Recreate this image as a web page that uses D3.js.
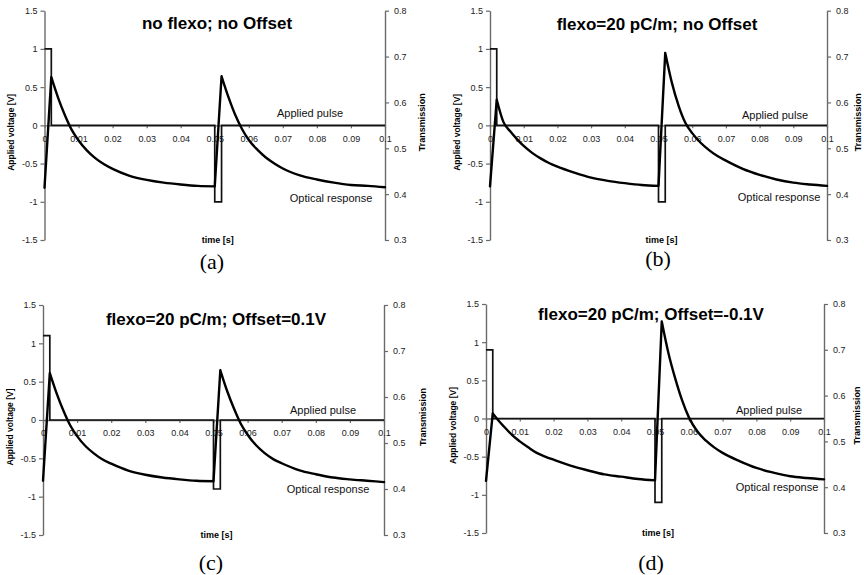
<!DOCTYPE html>
<html>
<head>
<meta charset="utf-8">
<script src="https://cdn.jsdelivr.net/npm/d3@7"></script>
<style>
  body { margin: 0; background: #fff; }
  svg { display: block; }
  text { font-family: "Liberation Sans", Arial, sans-serif; }
</style>
</head>
<body>
<svg id="chart" width="864" height="575"></svg>
<script>
// tick values
const timeTicks = [0, 0.01, 0.02, 0.03, 0.04, 0.05, 0.06, 0.07, 0.08, 0.09, 0.1];
const voltTicks = [-1.5, -1, -0.5, 0, 0.5, 1, 1.5];
const transTicks = [0.3, 0.4, 0.5, 0.6, 0.7, 0.8];

// applied pulse, step after each time
const pulseTimes = [0, 0.002, 0.05, 0.052, 0.1];
const pulseA = [1, 0, -1, 0, 0];
const pulseB = [1, 0, -1, 0, 0];
const pulseC = [1.1, 0, -0.9, 0, 0];
const pulseD = [0.9, 0, -1.1, 0, 0];

// optical response (transmission)
const optTimes = [0,
  0.002, 0.004, 0.006, 0.008, 0.010, 0.0125, 0.015, 0.0175, 0.020, 0.025, 0.030, 0.035, 0.040, 0.045, 0.050,
  0.052, 0.054, 0.056, 0.058, 0.060, 0.0625, 0.065, 0.0675, 0.070, 0.075, 0.080, 0.085, 0.090, 0.095, 0.100];
const optA = [0.414,
  0.655, 0.610, 0.572, 0.540, 0.517, 0.495, 0.478, 0.465, 0.455, 0.440, 0.431, 0.425, 0.421, 0.418, 0.417,
  0.657, 0.612, 0.573, 0.542, 0.518, 0.497, 0.480, 0.467, 0.456, 0.441, 0.432, 0.425, 0.420, 0.418, 0.415];
const optB = [0.417,
  0.606, 0.557, 0.537, 0.520, 0.505, 0.490, 0.478, 0.468, 0.460, 0.447, 0.436, 0.429, 0.424, 0.420, 0.418,
  0.708, 0.642, 0.592, 0.555, 0.533, 0.512, 0.496, 0.483, 0.473, 0.455, 0.442, 0.432, 0.425, 0.421, 0.418];
const optC = [0.418,
  0.652, 0.608, 0.570, 0.538, 0.515, 0.493, 0.477, 0.464, 0.455, 0.440, 0.431, 0.425, 0.421, 0.418, 0.417,
  0.658, 0.613, 0.575, 0.542, 0.518, 0.495, 0.478, 0.465, 0.456, 0.441, 0.432, 0.425, 0.421, 0.418, 0.415];
const optD = [0.414,
  0.561, 0.543, 0.527, 0.512, 0.500, 0.487, 0.475, 0.467, 0.460, 0.447, 0.437, 0.428, 0.423, 0.418, 0.415,
  0.762, 0.692, 0.637, 0.590, 0.553, 0.522, 0.502, 0.487, 0.475, 0.457, 0.442, 0.432, 0.424, 0.420, 0.417];

const titles = ["no flexo; no Offset", "flexo=20 pC/m; no Offset",
                "flexo=20 pC/m; Offset=0.1V", "flexo=20 pC/m; Offset=-0.1V"];
const tags = ["(a)", "(b)", "(c)", "(d)"];

// page layout for each panel (pixels)
const panels = [
  { title: titles[0], tag: tags[0], pulse: pulseA, optical: optA,
    left: 44.5, right: 385, top: 10.7, bottom: 240, transGap: 37,
    titleX: 217, titleY: 29, tagX: 212, tagY: 269,
    pulseLbl: [310, 117], optLbl: [331, 202] },
  { title: titles[1], tag: tags[1], pulse: pulseB, optical: optB,
    left: 490, right: 827, top: 10.7, bottom: 240, transGap: 31,
    titleX: 657, titleY: 30, tagX: 658, tagY: 266,
    pulseLbl: [775, 119], optLbl: [779, 201] },
  { title: titles[2], tag: tags[2], pulse: pulseC, optical: optC,
    left: 43, right: 384, top: 305, bottom: 535, transGap: 39,
    titleX: 216, titleY: 325, tagX: 211, tagY: 570,
    pulseLbl: [323, 414], optLbl: [328, 493] },
  { title: titles[3], tag: tags[3], pulse: pulseD, optical: optD,
    left: 486, right: 824, top: 304, bottom: 533, transGap: 33,
    titleX: 651, titleY: 320, tagX: 651, tagY: 570,
    pulseLbl: [769, 414], optLbl: [777, 491] }
];

const svg = d3.select("#chart");
svg.append("rect").attr("width", 864).attr("height", 575).attr("fill", "#fff");

// rising parts are straight, decays are smooth
function opticalPath(times, vals, x, y) {
  const pts = times.map((t, i) => [x(t), y(vals[i])]);
  let d = "";
  let i = 0;
  while (i < pts.length - 1) {
    const rising = vals[i + 1] > vals[i];
    let j = i + 1;
    while (j < pts.length - 1 && (vals[j + 1] > vals[j]) === rising) j++;
    d += d3.line().curve(rising ? d3.curveLinear : d3.curveMonotoneX)(pts.slice(i, j + 1));
    i = j;
  }
  return d;
}

function styleAxis(g) {
  g.attr("font-family", null).attr("font-size", null);
  g.selectAll(".domain").attr("stroke", "#6a6a6a").attr("stroke-width", 1.4);
  g.selectAll(".tick line").attr("stroke", "#6a6a6a").attr("stroke-width", 1.2);
  g.selectAll(".tick text").attr("fill", "#222").style("font-size", "9px");
}

function drawPanel(p) {
  const g = svg.append("g");
  const x = d3.scaleLinear().domain([0, 0.1]).range([p.left, p.right]);
  const yV = d3.scaleLinear().domain([-1.5, 1.5]).range([p.bottom, p.top]);
  const yT = d3.scaleLinear().domain([0.3, 0.8]).range([p.bottom, p.top]);

  g.append("g")
    .attr("transform", `translate(${p.left},0)`)
    .call(d3.axisLeft(yV).tickValues(voltTicks).tickSize(4).tickSizeOuter(0)
      .tickPadding(3).tickFormat(String))
    .call(styleAxis);

  g.append("g")
    .attr("transform", `translate(${p.right},0)`)
    .call(d3.axisRight(yT).tickValues(transTicks).tickSize(4).tickSizeOuter(0)
      .tickPadding(5).tickFormat(String))
    .call(styleAxis);

  g.append("g")
    .attr("transform", `translate(0,${yV(0)})`)
    .call(d3.axisBottom(x).tickValues(timeTicks).tickSize(3).tickSizeOuter(0)
      .tickPadding(7).tickFormat(String))
    .call(styleAxis);

  // applied pulse
  g.append("path")
    .attr("d", d3.line().curve(d3.curveStepAfter)(pulseTimes.map((t, i) => [x(t), yV(p.pulse[i])])))
    .attr("fill", "none")
    .attr("stroke", "#111")
    .attr("stroke-width", 1.7);

  // optical response
  g.append("path")
    .attr("d", opticalPath(optTimes, p.optical, x, yT))
    .attr("fill", "none")
    .attr("stroke", "#000")
    .attr("stroke-width", 2.4)
    .attr("stroke-linejoin", "round")
    .attr("stroke-linecap", "round");

  g.append("text")
    .attr("x", p.titleX).attr("y", p.titleY)
    .attr("text-anchor", "middle")
    .style("font-size", "17px").style("font-weight", "bold")
    .text(p.title);

  g.append("text")
    .attr("transform", `translate(${p.left - 33},${(p.top + p.bottom) / 2 + 7}) rotate(-90)`)
    .attr("dy", "0.35em")
    .attr("text-anchor", "middle")
    .style("font-size", "8.5px").style("font-weight", "bold")
    .text("Applied voltage [V]");

  g.append("text")
    .attr("transform", `translate(${p.right + p.transGap},${(p.top + p.bottom) / 2 - 3}) rotate(-90)`)
    .attr("dy", "0.35em")
    .attr("text-anchor", "middle")
    .style("font-size", "9px").style("font-weight", "bold")
    .text("Transmission");

  g.append("text")
    .attr("x", (p.left + p.right) / 2 + 3).attr("y", p.bottom + 3)
    .attr("text-anchor", "middle")
    .style("font-size", "9px").style("font-weight", "bold")
    .text("time [s]");

  g.append("text")
    .attr("x", p.pulseLbl[0]).attr("y", p.pulseLbl[1])
    .attr("text-anchor", "middle")
    .style("font-size", "11px").attr("fill", "#111")
    .text("Applied pulse");

  g.append("text")
    .attr("x", p.optLbl[0]).attr("y", p.optLbl[1])
    .attr("text-anchor", "middle")
    .style("font-size", "11px").attr("fill", "#111")
    .text("Optical response");

  g.append("text")
    .attr("x", p.tagX).attr("y", p.tagY)
    .attr("text-anchor", "middle")
    .style("font-family", "'Liberation Serif', 'Times New Roman', serif")
    .style("font-size", "22px")
    .text(p.tag);
}

panels.forEach(drawPanel);
</script>
</body>
</html>
